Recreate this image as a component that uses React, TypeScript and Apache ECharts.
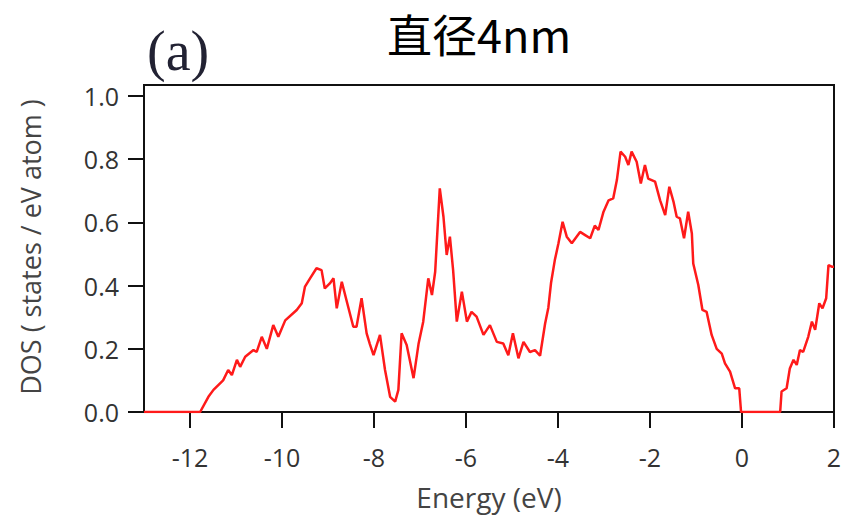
import React, { useEffect, useRef } from "react";
import * as echarts from "echarts";

const energy = [
  -13, -11.78, -11.6, -11.49, -11.28, -11.17, -11.09, -10.98, -10.91, -10.8, -10.62, -10.55, -10.44, -10.33,
  -10.19, -10.08, -9.93, -9.68, -9.57, -9.5, -9.39, -9.25, -9.14, -9.07, -8.96, -8.88, -8.81, -8.7, -8.59,
  -8.45, -8.38, -8.27, -8.16, -8.09, -8.01, -7.87, -7.76, -7.65, -7.54, -7.47, -7.4, -7.29, -7.14, -7.03,
  -6.93, -6.82, -6.74, -6.67, -6.57, -6.49, -6.42, -6.35, -6.28, -6.2, -6.09, -5.98, -5.88, -5.77, -5.62,
  -5.48, -5.33, -5.19, -5.08, -4.98, -4.86, -4.75, -4.61, -4.5, -4.39, -4.28, -4.21, -4.15, -4.07, -3.99,
  -3.9, -3.81, -3.7, -3.52, -3.41, -3.3, -3.2, -3.12, -3.01, -2.9, -2.8, -2.72, -2.64, -2.54, -2.47, -2.4,
  -2.29, -2.2, -2.11, -2.04, -1.89, -1.78, -1.67, -1.58, -1.49, -1.42, -1.35, -1.26, -1.17, -1.09, -1.06,
  -0.95, -0.86, -0.77, -0.66, -0.55, -0.44, -0.37, -0.26, -0.15, -0.06, -0.02, 0.83, 0.86, 0.97, 1.04,
  1.12, 1.19, 1.26, 1.33, 1.44, 1.52, 1.59, 1.68, 1.75, 1.83, 1.88, 1.95, 2.0,
];

const dos = [
  0, 0, 0.048, 0.07, 0.1, 0.133, 0.117, 0.165, 0.143, 0.175, 0.196, 0.19, 0.238, 0.2,
  0.275, 0.238, 0.29, 0.323, 0.344, 0.397, 0.423, 0.455, 0.449, 0.391, 0.407, 0.423, 0.328, 0.412, 0.349,
  0.27, 0.27, 0.36, 0.249, 0.215, 0.18, 0.244, 0.133, 0.048, 0.033, 0.07, 0.249, 0.212, 0.107, 0.217,
  0.286, 0.423, 0.37, 0.444, 0.708, 0.618, 0.497, 0.555, 0.449, 0.286, 0.381, 0.286, 0.317, 0.302, 0.244,
  0.275, 0.222, 0.217, 0.18, 0.249, 0.17, 0.222, 0.19, 0.196, 0.178, 0.28, 0.33, 0.41, 0.48, 0.534,
  0.602, 0.555, 0.534, 0.57, 0.56, 0.55, 0.59, 0.576, 0.634, 0.67, 0.676, 0.734, 0.824, 0.808, 0.782, 0.824,
  0.792, 0.723, 0.782, 0.739, 0.729, 0.67, 0.623, 0.713, 0.666, 0.618, 0.613, 0.55, 0.634, 0.565, 0.47,
  0.402, 0.323, 0.317, 0.244, 0.2, 0.185, 0.154, 0.128, 0.075, 0.075, 0, 0, 0.065, 0.075, 0.138,
  0.165, 0.149, 0.196, 0.19, 0.238, 0.286, 0.26, 0.344, 0.328, 0.36, 0.465, 0.46, 0.46,
];

const xTicks = [-12, -10, -8, -6, -4, -2, 0, 2];
const yTicks = [0, 0.2, 0.4, 0.6, 0.8, 1.0];

const titleText = "直径4nm";
const panelLabel = "(a)";
const xName = "Energy (eV)";
const yName = "DOS ( states / eV atom )";

export default function App() {
  const ref = useRef<HTMLDivElement>(null);
  useEffect(() => {
    if (!ref.current) return;
    const chart = echarts.init(ref.current, null, { renderer: "svg" });
    const labelFont = { fontFamily: "Open Sans", fontSize: 25, color: "#333" };
    chart.setOption({
      animation: false,
      backgroundColor: "#fff",
      grid: {
        left: 144,
        right: 12,
        top: 85,
        bottom: 103,
        show: true,
        borderColor: "#111",
        borderWidth: 2,
        containLabel: false,
      },
      xAxis: {
        type: "value",
        min: -13,
        max: 2,
        axisLine: { show: true, onZero: false, lineStyle: { color: "#111", width: 2 } },
        axisTick: { show: true, length: 16, customValues: xTicks, lineStyle: { color: "#111", width: 2 } },
        axisLabel: { ...labelFont, margin: 32, customValues: xTicks, formatter: (v: number) => String(v) },
        splitLine: { show: false },
      },
      yAxis: {
        type: "value",
        min: 0,
        max: 1.035,
        axisLine: { show: true, onZero: false, lineStyle: { color: "#111", width: 2 } },
        axisTick: { show: true, length: 16, customValues: yTicks, lineStyle: { color: "#111", width: 2 } },
        axisLabel: { ...labelFont, margin: 25, customValues: yTicks, formatter: (v: number) => v.toFixed(1) },
        splitLine: { show: false },
      },
      graphic: [
        {
          type: "text",
          x: 479,
          y: 33,
          style: {
            text: titleText,
            fontFamily: "Noto Sans CJK SC",
            fontSize: 45,
            fill: "#000",
            textAlign: "center",
            textVerticalAlign: "middle",
          },
        },
        {
          type: "text",
          x: 147,
          y: 51,
          style: {
            text: panelLabel,
            fontFamily: "Liberation Serif",
            fontSize: 56,
            fill: "#222233",
            textAlign: "left",
            textVerticalAlign: "middle",
          },
        },
        {
          type: "text",
          x: 489,
          y: 497,
          style: {
            text: xName,
            fontFamily: "Open Sans",
            fontSize: 28,
            fill: "#444",
            textAlign: "center",
            textVerticalAlign: "middle",
          },
        },
        {
          type: "text",
          x: 30,
          y: 247,
          rotation: Math.PI / 2,
          style: {
            text: yName,
            fontFamily: "Open Sans",
            fontSize: 27,
            fill: "#444",
            textAlign: "center",
            textVerticalAlign: "middle",
          },
        },
      ],
      series: [
        {
          type: "line",
          data: energy.map((e, i) => [e, dos[i]]),
          showSymbol: false,
          smooth: false,
          lineStyle: { color: "#ff1a1a", width: 2.5 },
          clip: true,
        },
      ],
    });
    return () => chart.dispose();
  }, []);
  return <div ref={ref} style={{ width: 846, height: 515, position: "absolute", left: 0, top: 0 }} />;
}
